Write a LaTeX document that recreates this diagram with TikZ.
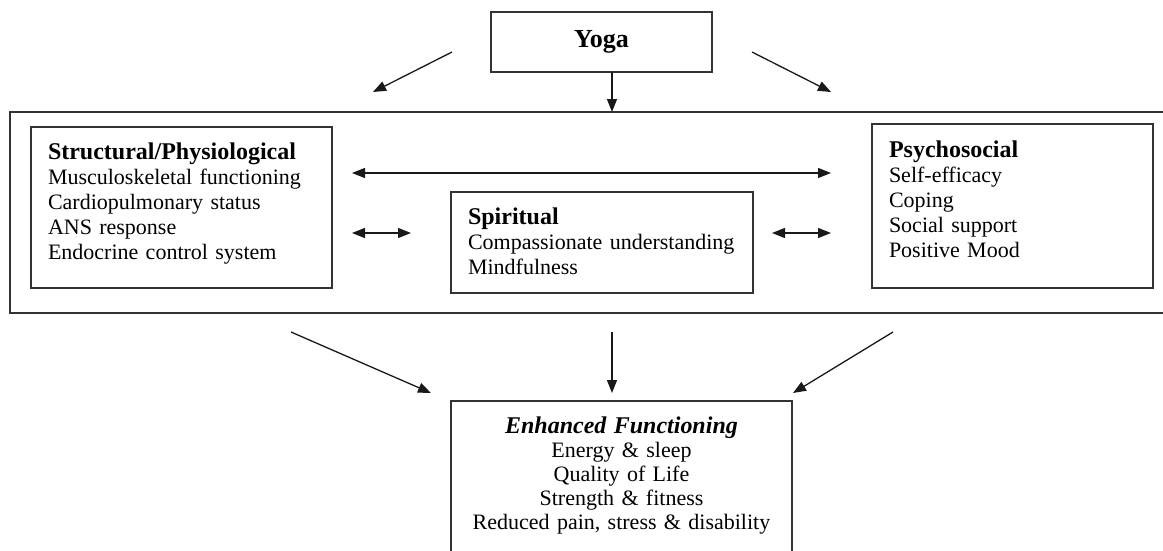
\documentclass[tikz,border=0pt]{standalone}
\usepackage{fontspec}
\setmainfont{Liberation Serif}
\usetikzlibrary{arrows.meta}
\definecolor{boxGray}{HTML}{333333}
\newcommand{\boxtitle}[1]{{\fontsize{24}{25}\selectfont\bfseries #1}}

\begin{document}
\begin{tikzpicture}[x=1pt, y=-1pt, >={Triangle[length=13pt,width=10pt]},
    box/.style={draw=boxGray, line width=1.9pt, inner xsep=17pt, inner ysep=0pt,
      outer sep=0pt, align=left, anchor=north west, font=\fontsize{22}{25}\selectfont},
    link/.style={line width=1.3pt, draw=black!90}]
  \clip (0,0) rectangle (1163,550);
  \fill[white] (0,0) rectangle (1163,550);

  % boxes
  \node[draw=boxGray, line width=1.9pt, inner sep=0pt, outer sep=0pt, anchor=north west,
    minimum width=1170pt, minimum height=201pt] (frame) at (10,112) {};
  \node[draw=boxGray, line width=1.9pt, inner sep=0pt, outer sep=0pt,
    minimum width=221pt, minimum height=60pt, font=\fontsize{26}{30}\selectfont\bfseries] (yoga) at (601.5,42) {Yoga};
  \node[box, text width=267pt, text height=32pt, text depth=129pt] (struct) at (31,127)
    {\boxtitle{Structural/Physiological}\\ Musculoskeletal functioning\\ Cardiopulmonary status\\ ANS response\\ Endocrine control system};
  \node[box, text width=268pt, text height=32pt, text depth=69pt] (spirit) at (451,192)
    {\boxtitle{Spiritual}\\ Compassionate understanding\\ Mindfulness};
  \node[box, text width=247pt, text height=33pt, text depth=131pt] (psycho) at (872,124)
    {\boxtitle{Psychosocial}\\ Self-efficacy\\ Coping\\ Social support\\ Positive Mood};
  \node[box, align=center, text width=307pt, text height=32pt, text depth=130pt,
    font=\fontsize{22}{24}\selectfont] (enhanced) at (451,401)
    {{\fontsize{24}{24}\selectfont\bfseries\itshape Enhanced Functioning}\\ Energy \& sleep\\ Quality of Life\\ Strength \& fitness\\ Reduced pain, stress \& disability};

  % free arrow ends
  \coordinate (yogaL) at (452,52);   \coordinate (topL) at (373,92);
  \coordinate (yogaR) at (752,52);   \coordinate (topR) at (831,92);
  \coordinate (longL) at (352,173);  \coordinate (longR) at (831,173);
  \coordinate (shortLa) at (352,233); \coordinate (shortLb) at (411,233);
  \coordinate (shortRa) at (772,233); \coordinate (shortRb) at (831,233);
  \coordinate (botL) at (291,332);   \coordinate (endL) at (431,393);
  \coordinate (botM) at (612,332);   \coordinate (endM) at (612,393);
  \coordinate (botR) at (893,332);   \coordinate (endR) at (793,393);

  % connectors
  \draw[link, ->] (yogaL) -- (topL);
  \draw[link, ->] (yogaR) -- (topR);
  \draw[link, ->] ([xshift=10.5pt]yoga.south) -- ([xshift=10.5pt]yoga.south |- frame.north);
  \draw[link, <->] (longL) -- (longR);
  \draw[link, <->] (shortLa) -- (shortLb);
  \draw[link, <->] (shortRa) -- (shortRb);
  \draw[link, ->] (botL) -- (endL);
  \draw[link, ->] (botM) -- (endM);
  \draw[link, ->] (botR) -- (endR);
\end{tikzpicture}
\end{document}
